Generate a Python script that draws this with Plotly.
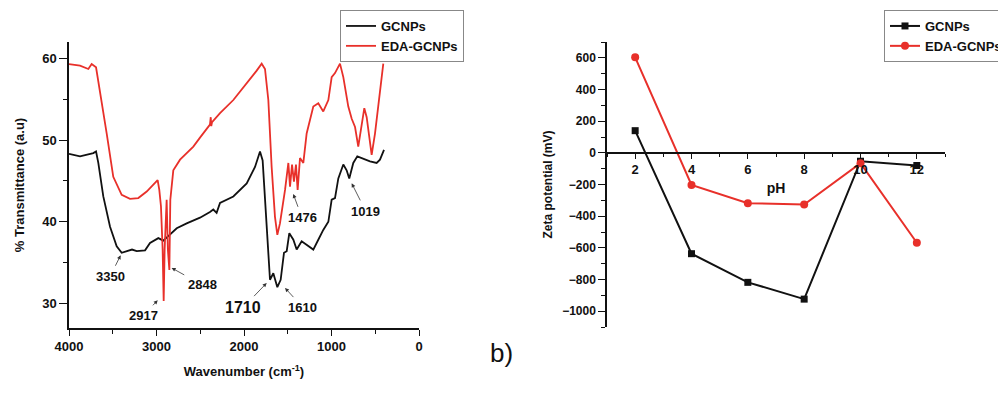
import plotly.graph_objects as go

# ---------------- data ----------------
# FTIR spectra (wavenumber cm-1, % transmittance)
gc_wn = [4000, 3874, 3722, 3691, 3665, 3608, 3531, 3455, 3398, 3340, 3280, 3226, 3131, 3074, 2979, 2922,
         2846, 2769, 2655, 2503, 2389, 2351, 2313, 2274, 2122, 1969, 1874, 1817, 1787, 1760, 1722, 1703,
         1665, 1619, 1581, 1543, 1512, 1482, 1436, 1398, 1341, 1284, 1208, 1151, 1094, 1036, 998, 960,
         922, 865, 827, 797, 751, 705, 636, 560, 484, 446, 400]
gc_t = [48.3, 48.0, 48.4, 48.6, 47.2, 43.1, 39.4, 37.0, 36.2, 36.4, 36.6, 36.4, 36.5, 37.4, 38.0, 37.7,
        38.4, 39.2, 39.8, 40.5, 41.2, 41.5, 41.1, 42.3, 43.1, 44.7, 46.7, 48.6, 47.5, 42.7, 35.0, 32.9,
        33.7, 32.0, 32.9, 36.2, 36.4, 38.6, 37.8, 36.6, 37.6, 37.2, 36.6, 37.8, 39.0, 40.0, 42.7, 42.9,
        45.3, 47.0, 46.3, 45.3, 47.2, 48.0, 47.7, 47.4, 47.2, 47.6, 48.8]

eda_wn = [4000, 3874, 3779, 3741, 3691, 3646, 3569, 3494, 3398, 3303, 3208, 3112, 3017, 2987, 2968, 2949,
          2930, 2918, 2907, 2884, 2870, 2853, 2842, 2808, 2731, 2579, 2503, 2389, 2380, 2374, 2365, 2274,
          2122, 1969, 1855, 1798, 1760, 1722, 1684, 1646, 1619, 1589, 1531, 1493, 1474, 1451, 1429, 1406,
          1387, 1360, 1322, 1284, 1208, 1151, 1094, 1036, 998, 960, 903, 865, 808, 769, 731, 694, 655,
          625, 598, 541, 503, 446, 408]
eda_t = [59.3, 59.1, 58.7, 59.3, 58.9, 56.1, 50.8, 45.5, 43.3, 42.8, 42.9, 43.7, 44.7, 45.1, 43.9, 41.9,
         36.6, 30.3, 36.6, 42.7, 36.6, 34.1, 42.7, 46.3, 47.6, 49.2, 50.3, 51.9, 52.8, 51.7, 52.2, 53.3,
         54.9, 56.9, 58.5, 59.35, 58.7, 54.9, 46.7, 40.6, 38.4, 39.8, 43.9, 47.2, 44.3, 47.0, 44.9, 47.0,
         43.9, 47.8, 47.2, 50.8, 54.1, 54.5, 53.5, 54.9, 57.7, 58.2, 59.35, 57.7, 54.1, 52.6, 51.6, 49.2, 51.6,
         53.9, 52.8, 48.2, 50.8, 55.7, 59.35]

# peak labels: text, arrow tip (wn, T), label position (wn, T)
peak_labels = ["3350", "2917", "2848", "1710", "1610", "1476", "1019"]
peak_tip_wn = [3410, 2986, 2827, 1741, 1531, 1437, 769]
peak_tip_t = [35.9, 30.4, 34.35, 32.5, 31.9, 43.4, 44.7]
peak_txt_wn = [3531, 3154, 2480, 2011, 1326, 1337, 609]
peak_txt_t = [33.3, 28.5, 32.3, 29.5, 29.5, 40.5, 41.3]

# Zeta potential vs pH
ph = [2, 4, 6, 8, 10, 12]
zeta_gc = [140, -637, -818, -924, -53, -80]
zeta_eda = [603, -203, -318, -327, -65, -568]

# ---------------- figure ----------------
W, H = 998, 398
FONT = "Liberation Sans, Arial, sans-serif"
RED = "#e8302a"
BLACK = "#111111"

def px_x(p):
    return p / W

def px_y(p):
    return 1 - p / H

fig = go.Figure()

fig.add_trace(go.Scatter(x=gc_wn, y=gc_t, mode="lines", name="GCNPs",
                         line=dict(color=BLACK, width=1.8), xaxis="x", yaxis="y", legend="legend"))
fig.add_trace(go.Scatter(x=eda_wn, y=eda_t, mode="lines", name="EDA-GCNPs",
                         line=dict(color=RED, width=1.8), xaxis="x", yaxis="y", legend="legend"))

fig.add_trace(go.Scatter(x=ph, y=zeta_gc, mode="lines+markers", name="GCNPs",
                         line=dict(color=BLACK, width=2), marker=dict(symbol="square", size=7, color=BLACK),
                         xaxis="x2", yaxis="y2", legend="legend2"))
fig.add_trace(go.Scatter(x=ph, y=zeta_eda, mode="lines+markers", name="EDA-GCNPs",
                         line=dict(color=RED, width=2), marker=dict(symbol="circle", size=8, color=RED),
                         xaxis="x2", yaxis="y2", legend="legend2"))

for i, lab in enumerate(peak_labels):
    fig.add_annotation(x=peak_tip_wn[i], y=peak_tip_t[i], ax=peak_txt_wn[i], ay=peak_txt_t[i],
                       xref="x", yref="y", axref="x", ayref="y", text="<b>%s</b>" % lab,
                       showarrow=True, arrowhead=2, arrowsize=1, arrowwidth=0.8, arrowcolor="#333",
                       standoff=0, startstandoff=2,
                       font=dict(family=FONT, size=16 if lab == "1710" else 13, color="#111"))

fig.add_annotation(x=px_x(501), y=px_y(370), xref="paper", yref="paper", text="b)", showarrow=False,
                   font=dict(family=FONT, size=26, color="#111"))

axfont = dict(family=FONT, size=13, color="#111")
titlefont = dict(family=FONT, size=13, color="#111")

ydom = [px_y(328), px_y(42)]
y2dom = [px_y(327), px_y(42)]
zero_pos = px_y(153)

fig.update_layout(
    width=W, height=H, margin=dict(l=0, r=0, t=0, b=0, autoexpand=False),
    paper_bgcolor="white", plot_bgcolor="white",
    font=dict(family=FONT, color="#111"),
    xaxis=dict(domain=[px_x(69), px_x(419)], range=[4000, 0], anchor="y",
               showline=True, linecolor="#111", linewidth=1.5, showgrid=False, zeroline=False,
               ticks="outside", ticklen=6, tickwidth=1.2, tickcolor="#111", dtick=1000, tick0=0,
               minor=dict(ticks="outside", ticklen=4, dtick=500, tickcolor="#111", tickwidth=1),
               tickfont=axfont, tickprefix="<b>", ticksuffix="</b>",
               title=dict(text="<b>Wavenumber (cm<sup>-1</sup>)</b>", font=titlefont, standoff=14)),
    yaxis=dict(domain=ydom, range=[27, 62], anchor="x",
               showline=True, linecolor="#111", linewidth=1.5, showgrid=False, zeroline=False,
               ticks="outside", ticklen=8, tickwidth=1.2, tickcolor="#111", dtick=10, tick0=0,
               minor=dict(ticks="outside", ticklen=4, dtick=5, tickcolor="#111", tickwidth=1),
               tickfont=axfont, tickprefix="<b>", ticksuffix="</b>",
               title=dict(text="<b>% Transmittance (a.u)</b>", font=titlefont, standoff=15)),
    xaxis2=dict(domain=[px_x(607), px_x(945)], range=[1, 13], anchor="free", position=zero_pos,
                showline=True, linecolor="#111", linewidth=1.5, showgrid=False, zeroline=False,
                ticks="outside", ticklen=5, tickwidth=1.2, tickcolor="#111", dtick=2, tick0=0,
                minor=dict(ticks="outside", ticklen=3, dtick=1, tickcolor="#111", tickwidth=1),
                tickfont=axfont, tickprefix="<b>", ticksuffix="</b>",
                title=dict(text="<b>pH</b>", font=dict(family=FONT, size=14, color="#111"), standoff=6)),
    yaxis2=dict(domain=y2dom, range=[-1100, 700], anchor="x2", position=px_x(607),
                showline=True, linecolor="#111", linewidth=1.5, showgrid=False, zeroline=False,
                ticks="outside", ticklen=7, tickwidth=1.2, tickcolor="#111", dtick=200, tick0=0,
                minor=dict(ticks="outside", ticklen=4, dtick=100, tickcolor="#111", tickwidth=1),
                tickfont=dict(family=FONT, size=12, color="#111"), tickprefix="<b>", ticksuffix="</b>",
                title=dict(text="<b>Zeta potential (mV)</b>", font=dict(family=FONT, size=12, color="#111"),
                           standoff=7)),
    legend=dict(x=px_x(340), y=px_y(10), xanchor="left", yanchor="top", xref="paper", yref="paper",
                bgcolor="white", bordercolor="#888", borderwidth=1,
                font=dict(family=FONT, size=13, color="#111"), tracegroupgap=0,
                itemwidth=30),
    legend2=dict(x=px_x(884), y=px_y(10), xanchor="left", yanchor="top", xref="paper", yref="paper",
                 bgcolor="white", bordercolor="#888", borderwidth=1,
                 font=dict(family=FONT, size=13, color="#111"), tracegroupgap=0,
                 itemwidth=30),
)
for tr in fig.data:
    tr.name = "<b>%s</b>" % tr.name

fig.write_html("out.html")
